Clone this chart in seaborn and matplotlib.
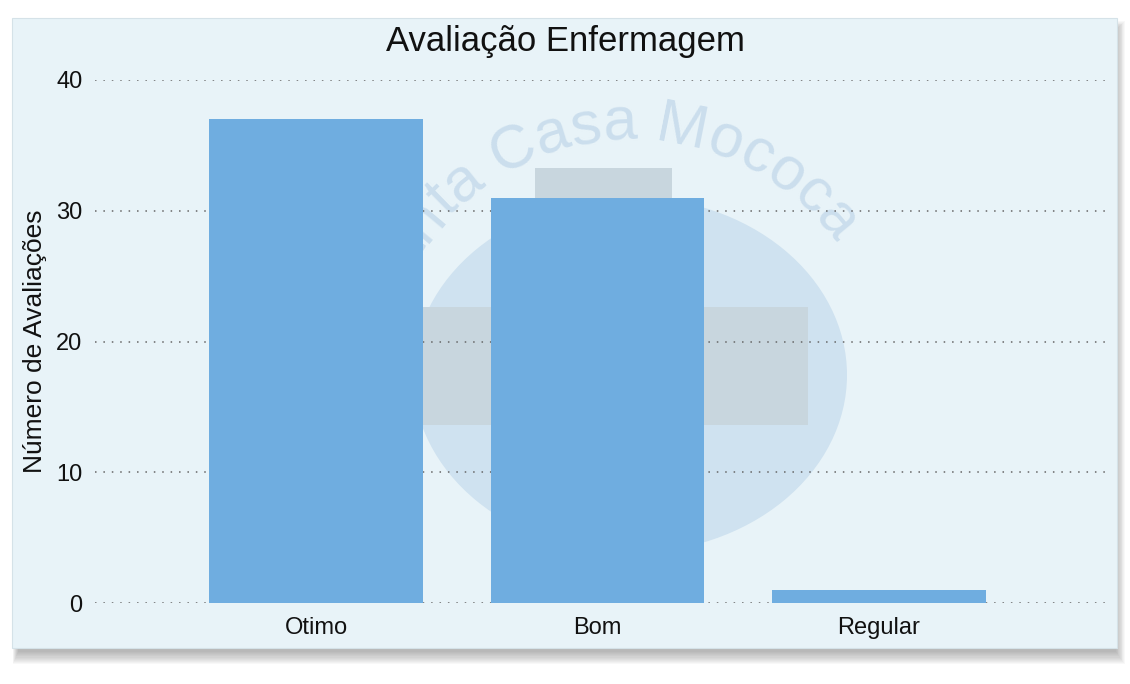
import numpy as np
import matplotlib
matplotlib.use("Agg")
import matplotlib.pyplot as plt
import seaborn as sns
from matplotlib.patches import Rectangle, Ellipse

categories = ["Otimo", "Bom", "Regular"]
avaliacoes = [37, 31, 1]
y_ticks = [0, 10, 20, 30, 40]

W, H = 1130, 684
bar_color = "#6fade0"
panel_color = "#e8f3f8"

sns.set_style("white")
plt.rcParams["font.family"] = ["Liberation Sans", "DejaVu Sans"]

fig = plt.figure(figsize=(W / 100, H / 100), dpi=100)
fig.patch.set_facecolor("white")


def fx(px):
    return px / W


def fy(py):
    return 1 - py / H


def rect_px(x0, y0, x1, y1, **kw):
    # rectangle in pixel coords, top-left origin
    r = Rectangle((fx(x0), fy(y1)), fx(x1 - x0), (y1 - y0) / H,
                  transform=fig.transFigure, **kw)
    fig.add_artist(r)
    return r


# soft panel shadow, mostly below and to the right
for k in range(12):
    rect_px(18 - 0.5 * k, 30 - 0.8 * k, 1116 + 0.8 * k, 652 + 1.1 * k,
            facecolor="#404040", edgecolor="none", alpha=0.035, zorder=-10)

# panel
rect_px(12, 18, 1117, 648, facecolor=panel_color, edgecolor="#d5e2e8",
        linewidth=0.8, zorder=-5)

# watermark logo
wm = Ellipse((fx(630), fy(375)), fx(434), 356 / H, transform=fig.transFigure,
             facecolor="#cfe2f0", edgecolor="none", zorder=-4)
fig.add_artist(wm)
rect_px(535, 168, 672, 545, facecolor="#c8d6de", edgecolor="none", zorder=-3)
rect_px(400, 307, 808, 425, facecolor="#c8d6de", edgecolor="none", zorder=-3)

# watermark text along an arc (Arial-like advance widths, in em)
wm_text = "Santa Casa Mococa"
adv = {"S": .667, "a": .556, "n": .556, "t": .278, " ": .278, "C": .722,
       "s": .5, "M": .833, "o": .556, "c": .5}
fs = 44
em_px = fs * 100 / 72
cx, cy, rad = 630, 392, 252
ang = np.deg2rad(161)
for ch in wm_text:
    w = adv[ch] * em_px
    ang_c = ang - (w / 2) / rad
    x = cx + rad * np.cos(ang_c)
    y = cy - rad * np.sin(ang_c)
    if ch != " ":
        fig.text(fx(x), fy(y), ch, fontsize=fs, color="#cbdeed",
                 rotation=np.rad2deg(ang_c) - 90, rotation_mode="anchor",
                 ha="center", va="baseline", zorder=-2,
                 family="Liberation Sans")
    ang -= w / rad

# plot area
ax = fig.add_axes([fx(95), fy(603), fx(1105 - 95), (603 - 80) / H])
ax.set_facecolor("none")
sns.barplot(x=categories, y=avaliacoes, color=bar_color, saturation=1,
            width=0.76, linewidth=0, ax=ax, zorder=3)
ax.set_xlim(-0.787, 2.804)
ax.set_ylim(0, 40)
ax.set_yticks(y_ticks)
ax.set_axisbelow(True)
ax.yaxis.grid(True, linestyle=(0, (1, 4.5)), color="#666666", linewidth=1.1)
ax.xaxis.grid(False)
for s in ax.spines.values():
    s.set_visible(False)
ax.tick_params(axis="both", length=0, labelsize=17, colors="#111111")
ax.tick_params(axis="y", pad=9)
ax.tick_params(axis="x", pad=10)
ax.set_ylabel("Número de Avaliações", fontsize=19, color="#111111", labelpad=7)
ax.set_xlabel("")
fig.text(fx(565), fy(41), "Avaliação Enfermagem", fontsize=25, color="#111111",
         ha="center", va="center")

fig.savefig("out.png", dpi=100)
